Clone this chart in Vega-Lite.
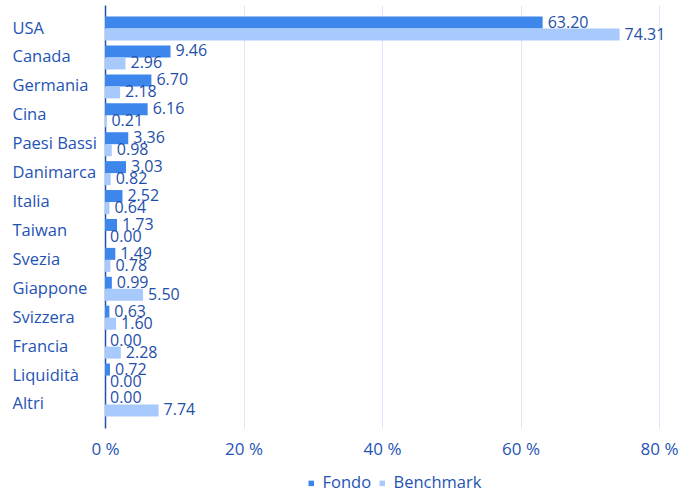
{
  "$schema": "https://vega.github.io/schema/vega-lite/v6.json",
  "width": 554,
  "height": 423,
  "autosize": {"type": "none"},
  "padding": {"left": 105, "top": 5, "right": 39, "bottom": 66},
  "background": "white",
  "config": {
    "font": "Open Sans",
    "view": {"stroke": null}
  },
  "data": {
    "values": [
      {"paese": "USA", "serie": "Fondo", "valore": 63.20},
      {"paese": "USA", "serie": "Benchmark", "valore": 74.31},
      {"paese": "Canada", "serie": "Fondo", "valore": 9.46},
      {"paese": "Canada", "serie": "Benchmark", "valore": 2.96},
      {"paese": "Germania", "serie": "Fondo", "valore": 6.70},
      {"paese": "Germania", "serie": "Benchmark", "valore": 2.18},
      {"paese": "Cina", "serie": "Fondo", "valore": 6.16},
      {"paese": "Cina", "serie": "Benchmark", "valore": 0.21},
      {"paese": "Paesi Bassi", "serie": "Fondo", "valore": 3.36},
      {"paese": "Paesi Bassi", "serie": "Benchmark", "valore": 0.98},
      {"paese": "Danimarca", "serie": "Fondo", "valore": 3.03},
      {"paese": "Danimarca", "serie": "Benchmark", "valore": 0.82},
      {"paese": "Italia", "serie": "Fondo", "valore": 2.52},
      {"paese": "Italia", "serie": "Benchmark", "valore": 0.64},
      {"paese": "Taiwan", "serie": "Fondo", "valore": 1.73},
      {"paese": "Taiwan", "serie": "Benchmark", "valore": 0.00},
      {"paese": "Svezia", "serie": "Fondo", "valore": 1.49},
      {"paese": "Svezia", "serie": "Benchmark", "valore": 0.78},
      {"paese": "Giappone", "serie": "Fondo", "valore": 0.99},
      {"paese": "Giappone", "serie": "Benchmark", "valore": 5.50},
      {"paese": "Svizzera", "serie": "Fondo", "valore": 0.63},
      {"paese": "Svizzera", "serie": "Benchmark", "valore": 1.60},
      {"paese": "Francia", "serie": "Fondo", "valore": 0.00},
      {"paese": "Francia", "serie": "Benchmark", "valore": 2.28},
      {"paese": "Liquidità", "serie": "Fondo", "valore": 0.72},
      {"paese": "Liquidità", "serie": "Benchmark", "valore": 0.00},
      {"paese": "Altri", "serie": "Fondo", "valore": 0.00},
      {"paese": "Altri", "serie": "Benchmark", "valore": 7.74}
    ]
  },
  "encoding": {
    "y": {
      "field": "paese",
      "type": "nominal",
      "sort": null,
      "scale": {"paddingInner": 0.17, "paddingOuter": 0.4},
      "axis": {
        "title": null,
        "labelAlign": "left",
        "labelPadding": 93,
        "labelFontSize": 16.5,
        "labelColor": "#1f54b5",
        "ticks": false,
        "domainColor": "#1f4fa8",
        "domainWidth": 1.5,
        "labelLimit": 200
      }
    },
    "x": {
      "field": "valore",
      "type": "quantitative",
      "scale": {"domain": [0, 80], "nice": false},
      "axis": {
        "title": null,
        "values": [0, 20, 40, 60, 80],
        "labelExpr": "datum.value + ' %'",
        "labelFontSize": 17,
        "labelFlush": false,
        "labelColor": "#1f54b5",
        "labelPadding": 13,
        "ticks": false,
        "domain": false,
        "grid": true,
        "gridColor": "#dce8fa",
        "gridWidth": 1
      }
    },
    "yOffset": {"field": "serie", "type": "nominal", "sort": ["Fondo", "Benchmark"]}
  },
  "layer": [
    {
      "mark": {"type": "bar"},
      "encoding": {
        "color": {
          "field": "serie",
          "type": "nominal",
          "sort": ["Fondo", "Benchmark"],
          "scale": {"domain": ["Fondo", "Benchmark"], "range": ["#3d86ec", "#a7c9fb"]},
          "legend": {
            "title": null,
            "orient": "none",
            "legendX": 198,
            "legendY": 470,
            "direction": "horizontal",
            "symbolType": "square",
            "symbolSize": 30,
            "symbolStrokeWidth": 0,
            "labelFontSize": 16.5,
            "labelColor": "#1f54b5",
            "labelOffset": 3,
            "columnPadding": 2
          }
        }
      }
    },
    {
      "mark": {"type": "text", "align": "left", "baseline": "middle", "dx": 5, "dy": 0, "fontSize": 16, "color": "#1f4fa8"},
      "encoding": {
        "text": {"field": "valore", "type": "quantitative", "format": ".2f"}
      }
    }
  ]
}
